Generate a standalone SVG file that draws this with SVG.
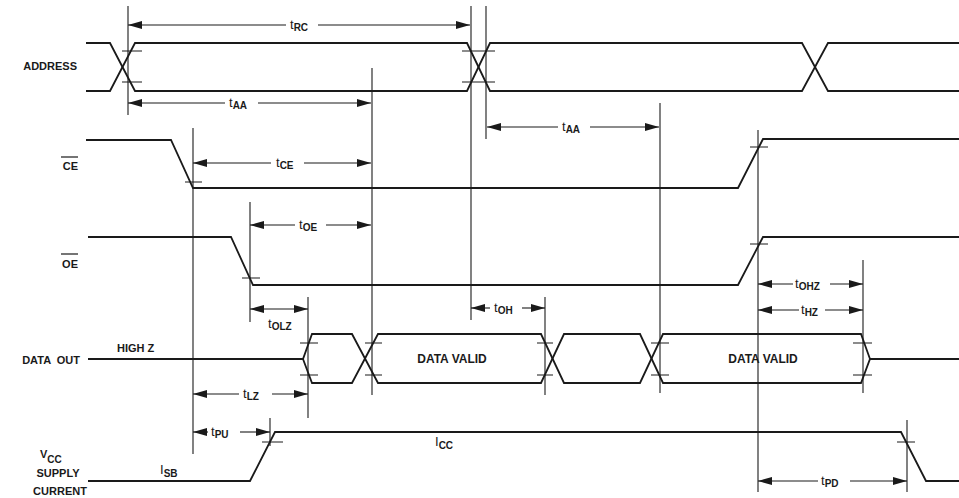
<svg xmlns="http://www.w3.org/2000/svg" width="959" height="498" viewBox="0 0 959 498">
<style>
.sig{fill:none;stroke:#1a1a1a;stroke-width:1.8;stroke-linejoin:miter}
.tick{stroke:#1a1a1a;stroke-width:1.2}
.guide{stroke:#1a1a1a;stroke-width:1.1}
.dim{stroke:#1a1a1a;stroke-width:1.1}
.arr{marker-end:url(#ah)}
.arl{marker-start:url(#ah)}
text{font-family:"Liberation Sans",Arial,Helvetica,sans-serif;font-weight:bold;fill:#1a1a1a}
.lbl{font-size:11px}
.big{font-size:12px}
.t{font-size:13px;font-weight:normal}
.sub{font-size:10px;font-weight:bold}
</style>
<defs>
<marker id="ah" markerUnits="userSpaceOnUse" markerWidth="15" markerHeight="9" refX="14" refY="4" orient="auto-start-reverse" viewBox="0 0 15 9">
<path d="M0,0 L14,4 L0,8 z" fill="#1a1a1a"/>
</marker>
</defs>
<rect width="959" height="498" fill="#fff"/>

<g id="labels">
<text class="lbl" x="77" y="70" text-anchor="end">ADDRESS</text>
<g id="ce-label"><text class="lbl" x="78" y="170" text-anchor="end">CE</text><line class="tick" x1="61" y1="157" x2="78" y2="157"/></g>
<g id="oe-label"><text class="lbl" x="78" y="268" text-anchor="end">OE</text><line class="tick" x1="61" y1="254" x2="78" y2="254"/></g>
<text class="lbl" x="80" y="364" text-anchor="end" xml:space="preserve">DATA  OUT</text>
<text class="lbl" x="117" y="352">HIGH Z</text>
<text class="lbl" x="40" y="458">V<tspan class="sub" dy="5">CC</tspan></text>
<text class="lbl" x="58" y="477" text-anchor="middle">SUPPLY</text>
<text class="lbl" x="60" y="495" text-anchor="middle">CURRENT</text>
</g>

<g id="guides">
<line class="guide" x1="128" y1="6" x2="128" y2="115"/>
<line class="guide" x1="193" y1="128" x2="193" y2="454"/>
<line class="guide" x1="250" y1="202" x2="250" y2="322"/>
<line class="guide" x1="270" y1="418" x2="270" y2="446"/>
<line class="guide" x1="308" y1="297" x2="308" y2="418"/>
<line class="guide" x1="372" y1="68" x2="372" y2="395"/>
<line class="guide" x1="471" y1="6" x2="471" y2="320"/>
<line class="guide" x1="486" y1="6" x2="486" y2="139"/>
<line class="guide" x1="545" y1="297" x2="545" y2="395"/>
<line class="guide" x1="660" y1="103" x2="660" y2="393"/>
<line class="guide" x1="758" y1="130" x2="758" y2="492"/>
<line class="guide" x1="863" y1="260" x2="863" y2="393"/>
<line class="guide" x1="907" y1="420" x2="907" y2="492"/>
</g>

<g id="address">
<path class="sig" d="M86,43 H110 L135,91 H467 L490,43 H802 L828,91 H959"/>
<path class="sig" d="M86,91 H110 L135,43 H467 L490,91 H802 L828,43 H959"/>
<path class="tick" d="M122,51 H142 M122,82 H142 M462,51 H495 M462,82 H495"/>
</g>

<g id="ce">
<path class="sig" d="M86,140 H171 L193,188 H738 L763,139 H959"/>
<path class="tick" d="M185,182 H202 M750,147 H768"/>
</g>

<g id="oe">
<path class="sig" d="M88,237 H231 L253,285 H738 L763,237 H959"/>
<path class="tick" d="M242,278 H260 M750,244 H768"/>
</g>

<g id="dataout">
<path class="sig" d="M88,359 H303 L312,334 H352 L378,383 H541 L564,334 H640 L663,383 H861 L870,359 H959"/>
<path class="sig" d="M303,359 L312,383 H352 L378,334 H541 L564,383 H640 L663,334 H861 L870,359"/>
<path class="tick" d="M300,343 H318 M300,375 H318 M365,343 H382 M365,375 H382 M537,343 H553 M537,375 H553 M651,343 H669 M651,375 H669 M853,343 H872 M853,375 H872"/>
<text class="big" x="452" y="363" text-anchor="middle">DATA VALID</text>
<text class="big" x="763" y="363" text-anchor="middle">DATA VALID</text>
</g>

<g id="vcc">
<path class="sig" d="M88,481 H250 L275,432 H901 L926,481 H959"/>
<path class="tick" d="M262,442 H283 M897,442 H915"/>
<text class="t" x="435" y="446">I<tspan class="sub" dy="3">CC</tspan></text>
<text class="t" x="160" y="474">I<tspan class="sub" dy="3">SB</tspan></text>
</g>

<g id="dimensions">
<line class="dim arl" x1="128" y1="25" x2="286" y2="25"/><line class="dim arr" x1="318" y1="25" x2="470" y2="25"/>
<text class="t" x="290" y="29">t<tspan class="sub" dy="2">RC</tspan></text>

<line class="dim arl" x1="128" y1="103" x2="225" y2="103"/><line class="dim arr" x1="258" y1="103" x2="371" y2="103"/>
<text class="t" x="229" y="107">t<tspan class="sub" dy="2">AA</tspan></text>

<line class="dim arl" x1="487" y1="127" x2="558" y2="127"/><line class="dim arr" x1="590" y1="127" x2="659" y2="127"/>
<text class="t" x="562" y="131">t<tspan class="sub" dy="2">AA</tspan></text>

<line class="dim arl" x1="193" y1="163" x2="271" y2="163"/><line class="dim arr" x1="304" y1="163" x2="371" y2="163"/>
<text class="t" x="276" y="167">t<tspan class="sub" dy="2">CE</tspan></text>

<line class="dim arl" x1="250" y1="225" x2="295" y2="225"/><line class="dim arr" x1="326" y1="225" x2="371" y2="225"/>
<text class="t" x="299" y="229">t<tspan class="sub" dy="2">OE</tspan></text>

<line class="dim arl arr" x1="250" y1="309" x2="308" y2="309"/>
<text class="t" x="268" y="328">t<tspan class="sub" dy="2">OLZ</tspan></text>

<line class="dim arl" x1="471" y1="308" x2="490" y2="308"/><line class="dim arr" x1="522" y1="308" x2="545" y2="308"/>
<text class="t" x="494" y="312">t<tspan class="sub" dy="2">OH</tspan></text>

<line class="dim arl" x1="758" y1="284" x2="793" y2="284"/><line class="dim arr" x1="830" y1="284" x2="863" y2="284"/>
<text class="t" x="795" y="288">t<tspan class="sub" dy="2">OHZ</tspan></text>

<line class="dim arl" x1="758" y1="310" x2="799" y2="310"/><line class="dim arr" x1="825" y1="310" x2="863" y2="310"/>
<text class="t" x="801" y="314">t<tspan class="sub" dy="2">HZ</tspan></text>

<line class="dim arl" x1="193" y1="394" x2="239" y2="394"/><line class="dim arr" x1="272" y1="394" x2="308" y2="394"/>
<text class="t" x="243" y="398">t<tspan class="sub" dy="2">LZ</tspan></text>

<line class="dim arl" x1="193" y1="432" x2="208" y2="432"/><line class="dim arr" x1="240" y1="432" x2="270" y2="432"/>
<text class="t" x="211" y="436">t<tspan class="sub" dy="2">PU</tspan></text>

<line class="dim arl" x1="758" y1="481" x2="818" y2="481"/><line class="dim arr" x1="850" y1="481" x2="907" y2="481"/>
<text class="t" x="821" y="485">t<tspan class="sub" dy="2">PD</tspan></text>
</g>
</svg>
